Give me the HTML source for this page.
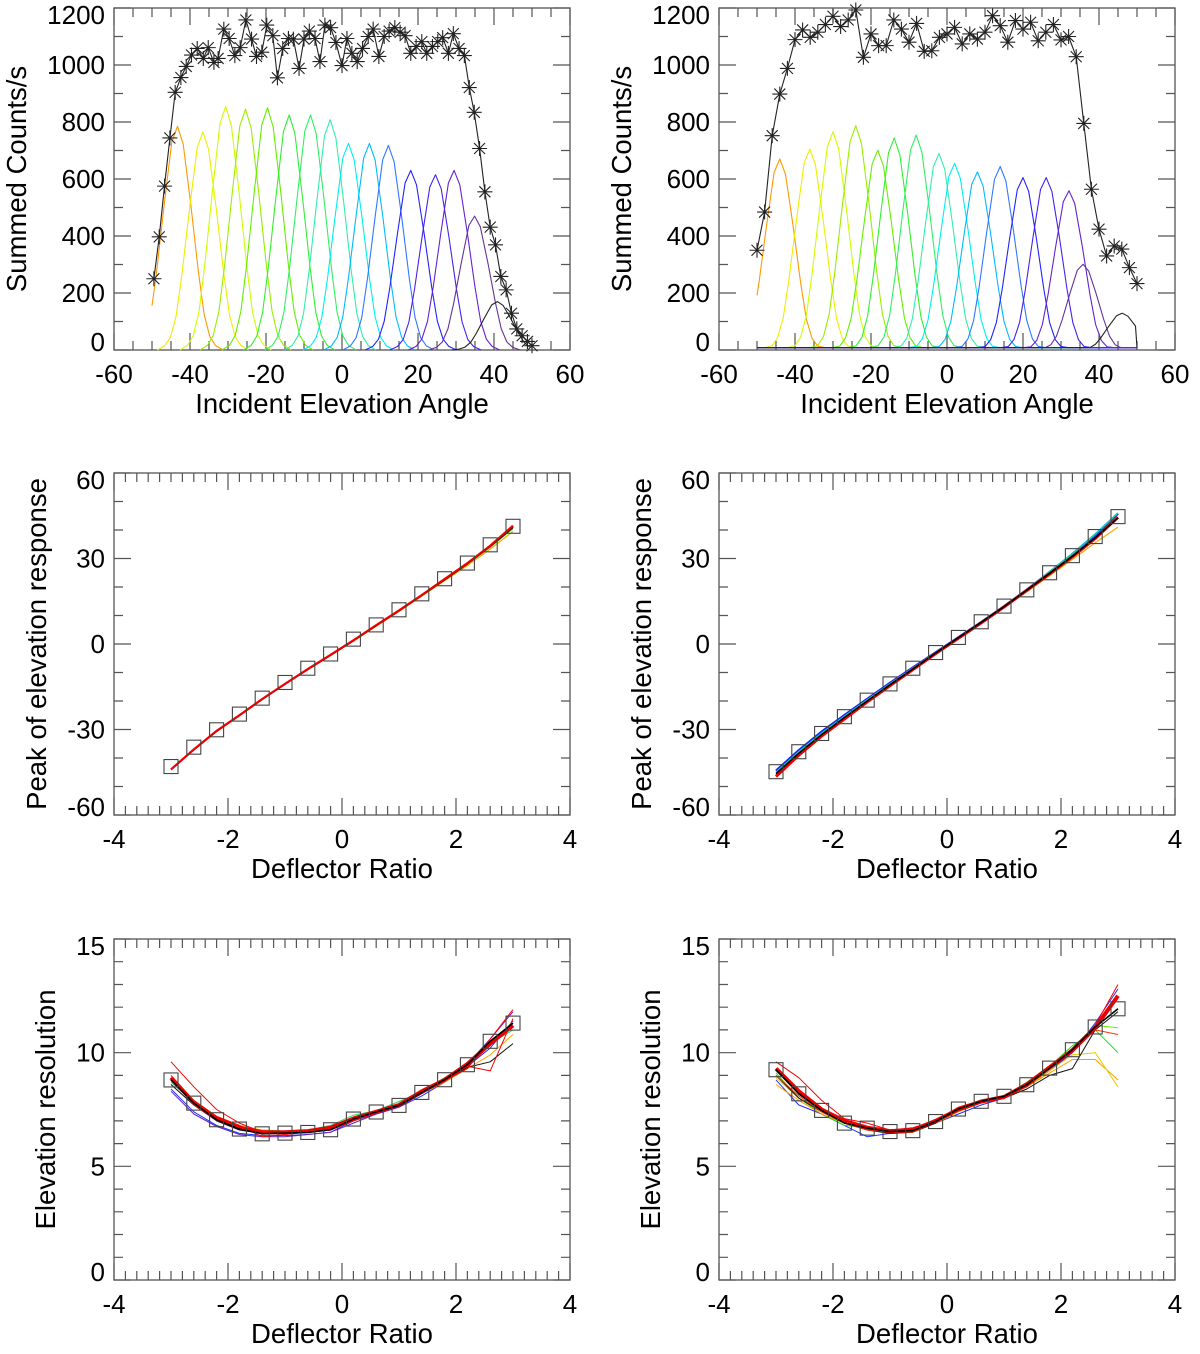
<!DOCTYPE html>
<html><head><meta charset="utf-8"><style>
html,body{margin:0;padding:0;background:#fff}
svg{display:block}
text{font-family:"Liberation Sans",Arial,sans-serif;fill:#000}
</style></head><body>
<svg id="fig" xmlns="http://www.w3.org/2000/svg" width="1200" height="1354" viewBox="0 0 1200 1354"></svg>
<script>
// ---- Data: top-left panel (summed counts) ----
const starXL = [-49.5,-48.1,-46.7,-45.3,-43.9,-42.4,-41,-39.6,-38.1,-36.5,-35.2,-33.7,-32.6,-31.1,-29.7,-28.2,-26.8,-25.3,-23.8,-22.5,-21.1,-19.8,-18.2,-17,-15.6,-14.1,-12.8,-11.3,-10,-8.6,-7.1,-5.8,-4.5,-3,-1.6,0,1.3,2.6,4,5.4,6.9,8.2,9.7,11.1,12.4,13.9,15.3,16.6,18.1,19.5,21,22.3,23.8,25.2,26.5,28,29.3,30.8,32.2,33.5,34.8,36.2,37.6,39,40.4,41.8,43.2,44.6,46,47.4,48.8,50];
const starYL = [250,397,575,744,904,956,995,1035,1058,1023,1061,1009,1023,1126,1093,1033,1061,1158,1091,1030,1045,1140,1103,955,1058,1093,1091,988,1091,1119,1093,1012,1140,1131,1079,998,1093,1041,1012,1058,1100,1126,1030,1100,1119,1131,1115,1103,1041,1065,1082,1041,1065,1082,1096,1041,1110,1058,1033,921,834,707,555,431,369,258,211,129,74,50,30,15];
const peakCenterL = [-43.3,-36.6,-30.6,-25.4,-19.6,-13.9,-8.3,-3.1,1.7,7.2,12.2,18.1,24.6,29.5,34.9,40.9];
const peakHeightL = [785,765,855,845,850,825,825,808,725,725,718,630,615,630,470,170];
// ---- Data: top-right panel ----
const starXR = [-50,-48,-46,-44,-42,-40,-38,-36,-34,-32,-30,-28,-26,-24,-22,-20,-18,-16,-14,-12,-10,-8,-6,-4,-2,0,2,4,6,8,10,12,14,16,18,20,22,24,26,28,30,32,34,36,38,40,42,44,46,48,50];
const starYR = [350,484,752,898,988,1089,1123,1097,1115,1142,1171,1135,1158,1193,1027,1109,1068,1068,1158,1126,1080,1146,1048,1050,1097,1109,1132,1074,1109,1091,1115,1173,1138,1080,1156,1126,1150,1085,1115,1142,1088,1100,1029,795,564,424,330,365,354,289,233];
const peakCenterR = [-44,-36.1,-30,-24,-18.2,-13.9,-8.1,-2.1,2,8,14,20,26.1,32.1,35.8,46.1];
const peakHeightR = [670,705,766,787,701,744,754,690,655,625,644,605,605,559,301,129];
const floorR = 8;
// shared response profile (normalised)
const profOffset = [-12,-10,-8.5,-7,-5.5,-3.5,-1.5,0,1.5,3.5,5.5,7,8.5,10,12];
const profValue  = [0,0.02,0.06,0.16,0.35,0.65,0.93,1,0.92,0.65,0.35,0.16,0.06,0.02,0];
const peakColors = ['#ff9900','#eeee00','#ccff00','#99ee00','#66ee00','#33ee33','#33ee66','#33eeaa','#00eeee','#00bbff','#3377ff','#2222ff','#4422ee','#6622cc','#663399','#222222'];
// ---- Data: deflector ratio panels ----
const ratio = [-3,-2.6,-2.2,-1.8,-1.4,-1,-0.6,-0.2,0.2,0.6,1,1.4,1.8,2.2,2.6,3];
const peakSqL = [-43,-36.2,-30.1,-24.6,-19,-13.5,-8.5,-3.5,1.7,6.7,12,17.6,22.9,28.4,34.8,41.3];
const peakOrangeL = [-44,-37,-30.5,-25,-19.4,-14,-9,-4,1,6.2,11.4,16.8,22.2,27.5,33.3,39.5];
const peakGreenL = [-44,-37,-30.5,-25,-19.3,-14,-8.9,-3.9,1.2,6.4,11.6,17,22.5,28,34,40.5];
const peakBlackL = [-44,-37,-30.6,-25,-19.4,-14,-8.9,-3.9,1.2,6.5,11.7,17.1,22.6,28.2,34.3,41];
const peakRedL = [-44,-37,-30.5,-25,-19.3,-14,-8.8,-3.8,1.3,6.6,11.8,17.2,22.8,28.4,34.5,41.5];
const peakSqR = [-44.8,-37.8,-31.4,-25.5,-19.7,-14,-8.5,-3,2.3,7.8,13.3,19,25,31,37.7,44.7];
const peakBlueR = [-44.5,-37.3,-30.8,-25,-19.3,-13.7,-8.3,-3,2.3,7.6,13.2,19,25.2,31.5,38.3,45.8];
const peakGreenR = [-45,-37.8,-31.3,-25.4,-19.6,-14,-8.5,-3.1,2.3,7.7,13.3,19.1,25.3,31.6,38.5,46];
const peakOrangeR = [-46,-38.8,-32.2,-26.2,-20.3,-14.5,-9,-3.4,2,7.3,12.8,18.3,24,29.7,35.5,41];
const peakBlackR = [-45.5,-38.3,-31.8,-25.8,-20,-14.3,-8.8,-3.2,2.2,7.6,13.1,18.9,24.8,30.8,37.3,44.2];
const peakRedR = [-46.5,-39,-32.3,-26.3,-20.3,-14.6,-9,-3.4,2,7.4,13,18.8,24.6,30.6,37,44.5];
const resSqL = [8.8,7.78,7.05,6.64,6.43,6.46,6.49,6.61,7.08,7.39,7.68,8.25,8.81,9.47,10.5,11.3];
const resRed1L = [9.6,8.5,7.5,6.9,6.5,6.45,6.5,6.6,7,7.35,7.7,8.2,8.75,9.3,10.6,11.9];
const resRed2L = [9,7.9,7.2,6.8,6.3,6.4,6.5,6.6,7.1,7.4,7.7,8.25,8.8,9.4,9.2,11.5];
const resRed3L = [8.9,7.8,7.1,6.7,6.5,6.5,6.55,6.7,7.1,7.4,7.7,8.3,8.8,9.5,10.4,11.2];
const resBlueL = [8.4,7.4,6.8,6.45,6.35,6.35,6.4,6.5,7,7.3,7.6,8.1,8.7,9.4,10.2,11.4];
const resPurpleL = [8.3,7.3,6.75,6.4,6.3,6.3,6.4,6.5,6.9,7.3,7.6,8.2,8.8,9.5,10.6,11.8];
const resGreenL = [8.7,7.8,7.1,6.7,6.6,6.55,6.6,6.8,7.25,7.45,7.85,8.3,8.9,9.5,10.4,11];
const resOrangeL = [8.8,7.9,7.2,6.8,6.6,6.5,6.55,6.7,7,7.35,7.65,8.2,8.7,9.3,9.9,10.8];
const resBlackL = [8.6,7.7,7,6.6,6.45,6.45,6.5,6.6,7.05,7.35,7.65,8.2,8.75,9.35,9.6,10.4];
const resSqR = [9.25,8.19,7.46,6.9,6.68,6.53,6.57,6.97,7.52,7.86,8.08,8.59,9.32,10.13,11.13,11.93];
const resRed1R = [9.6,8.9,7.9,7.1,6.9,6.6,6.7,7,7.6,7.9,8.1,8.5,9.3,10.2,11.2,13];
const resRed2R = [9,8.1,7.4,6.9,6.6,6.5,6.5,6.95,7.5,7.9,8.1,8.6,9.4,10.1,11,10.8];
const resRed3R = [9.3,8.3,7.5,7,6.7,6.55,6.6,7,7.5,7.85,8.05,8.6,9.35,10.1,11.1,12.5];
const resBlueR = [8.8,7.7,7.3,6.8,6.3,6.45,6.5,6.9,7.3,7.7,8,8.5,9.2,10,11.3,12.8];
const resGreenR = [9.1,8,7.3,6.8,6.7,6.6,6.6,7,7.6,7.9,8.1,8.7,9.4,10.3,11,10];
const resGreen2R = [9.2,8.2,7.4,6.9,6.7,6.5,6.6,7,7.5,7.9,8.1,8.6,9.4,10.2,11.2,11.1];
const resOrangeR = [8.6,7.9,7.3,6.9,6.6,6.5,6.5,6.9,7.4,7.8,8,8.5,9.1,9.7,9.7,8.8];
const resYellowR = [8.9,8,7.4,6.9,6.6,6.45,6.5,6.9,7.4,7.8,8,8.5,9.2,9.9,10,8.5];
const resBlackR = [9,8,7.4,6.9,6.6,6.45,6.5,6.9,7.5,7.8,8,8.4,9,9.3,11,11.8];

const NS = 'http://www.w3.org/2000/svg';
const fig = document.getElementById('fig');
function mk(tag, parent, attrs){ const e=document.createElementNS(NS,tag); for(const k in attrs) e.setAttribute(k,attrs[k]); parent.appendChild(e); return e; }

const panels = [
 {name:'counts-left', x0:114,x1:570,y0:8,y1:350,xa:-60,xb:60,ya:0,yb:1200,xM:20,xm:5,yM:200,ym:100,xt:'Incident Elevation Angle',yt:'Summed Counts/s',ytx:26},
 {name:'counts-right',x0:719,x1:1175,y0:8,y1:350,xa:-60,xb:60,ya:0,yb:1200,xM:20,xm:5,yM:200,ym:100,xt:'Incident Elevation Angle',yt:'Summed Counts/s',ytx:631},
 {name:'peak-left',   x0:114,x1:570,y0:473,y1:815,xa:-4,xb:4,ya:-60,yb:60,xM:2,xm:0.2,yM:30,ym:10,xt:'Deflector Ratio',yt:'Peak of elevation response',ytx:46},
 {name:'peak-right',  x0:719,x1:1175,y0:473,y1:815,xa:-4,xb:4,ya:-60,yb:60,xM:2,xm:0.2,yM:30,ym:10,xt:'Deflector Ratio',yt:'Peak of elevation response',ytx:651},
 {name:'resolution-left', x0:114,x1:570,y0:939,y1:1280,xa:-4,xb:4,ya:0,yb:15,xM:2,xm:0.2,yM:5,ym:1,xt:'Deflector Ratio',yt:'Elevation resolution',ytx:55},
 {name:'resolution-right',x0:719,x1:1175,y0:939,y1:1280,xa:-4,xb:4,ya:0,yb:15,xM:2,xm:0.2,yM:5,ym:1,xt:'Deflector Ratio',yt:'Elevation resolution',ytx:660}
];
panels.forEach(p=>{
  p.sx = v => p.x0 + (v-p.xa)/(p.xb-p.xa)*(p.x1-p.x0);
  p.sy = v => p.y1 - (v-p.ya)/(p.yb-p.ya)*(p.y1-p.y0);
});

function drawAxes(p){
  const g = mk('g', fig, {});
  
  
  const box = mk('rect', g, {x:p.x0,y:p.y0,width:p.x1-p.x0,height:p.y1-p.y0,fill:'none',stroke:'#555','stroke-width':1.3});
  
  
  let d='';
  const nx = Math.round((p.xb-p.xa)/p.xm);
  for(let i=0;i<=nx;i++){
    const v=p.xa+i*p.xm; const X=p.sx(v).toFixed(1);
    const major = Math.abs(v/p.xM-Math.round(v/p.xM))<1e-6; const L = major?17:9;
    d+=`M${X} ${p.y1}V${p.y1-L}M${X} ${p.y0}V${p.y0+L}`;
  }
  const ny = Math.round((p.yb-p.ya)/p.ym);
  for(let i=0;i<=ny;i++){
    const v=p.ya+i*p.ym; const Y=p.sy(v).toFixed(1);
    const major = Math.abs(v/p.yM-Math.round(v/p.yM))<1e-6; const L = major?17:9;
    d+=`M${p.x0} ${Y}H${p.x0+L}M${p.x1} ${Y}H${p.x1-L}`;
  }
  const ticks = mk('path', g, {d:d, stroke:'#555','stroke-width':1.2, fill:'none'});
  
  
  const nX = Math.round((p.xb-p.xa)/p.xM);
  for(let i=0;i<=nX;i++){
    const v=p.xa+i*p.xM;
    const t = mk('text', g, {x:p.sx(v), y:p.y1+33, 'text-anchor':'middle','font-size':26});
    
    
    t.textContent = String(Math.round(v));
  }
  const nY = Math.round((p.yb-p.ya)/p.yM);
  for(let i=0;i<=nY;i++){
    const v=p.ya+i*p.yM;
    let yy = p.sy(v)+9;
    if(i===0) yy-=8; if(i===nY) yy+=7;
    const t = mk('text', g, {x:p.x0-9, y:yy, 'text-anchor':'end','font-size':26});
    
    
    t.textContent = String(Math.round(v));
  }
  const xt = mk('text', g, {x:(p.x0+p.x1)/2, y:p.y1+63, 'text-anchor':'middle','font-size':27.5});
  
  
  xt.textContent = p.xt;
  const cy=(p.y0+p.y1)/2;
  const yt = mk('text', g, {x:p.ytx, y:cy, transform:`rotate(-90 ${p.ytx} ${cy})`, 'text-anchor':'middle','font-size':27.5});
  
  
  yt.textContent = p.yt;
}

function line(p, xs, ys, color, w, name){
  const pts = xs.map((x,i)=>p.sx(x).toFixed(1)+','+p.sy(ys[i]).toFixed(1)).join(' ');
  const e = mk('polyline', fig, {points:pts, fill:'none', stroke:color, 'stroke-width':w, 'stroke-linejoin':'round'});
  
  
  return e;
}

function peaks(p, centers, heights, floor){
  centers.forEach((c,k)=>{
    const xs=[], ys=[];
    profOffset.forEach((o,i)=>{
      const x=c+o; if(x>-50 && x<50){ xs.push(x); ys.push(Math.max(floor, heights[k]*profValue[i])); }
    });
    if(c+profOffset[0] < -50){
      let j=profOffset.findIndex(o=>c+o>-50);
      const o0=profOffset[j-1], o1=profOffset[j], t=(-50-c-o0)/(o1-o0);
      const v=heights[k]*(profValue[j-1]+(profValue[j]-profValue[j-1])*t);
      xs.unshift(-50); ys.unshift(Math.max(floor,v));
    } else if(floor>0){ xs.unshift(-50); ys.unshift(floor); }
    if(floor>0){ xs.push(50); ys.push(floor); }
    line(p, xs, ys, peakColors[k], 1.1, 'response-curve');
  });
}

function stars(p, xs, ys){
  line(p, xs, ys, '#222', 1.1, 'summed-counts-line');
  xs.forEach((x,i)=>{
    const X=p.sx(x), Y=p.sy(ys[i]), r=7.5, r2=5.5;
    const s = mk('path', fig, {d:`M${X-r} ${Y}H${X+r}M${X} ${Y-r}V${Y+r}M${X-r2} ${Y-r2}L${X+r2} ${Y+r2}M${X-r2} ${Y+r2}L${X+r2} ${Y-r2}`, stroke:'#222','stroke-width':1.1, fill:'none'});
    
    
  });
}

function squares(p, xs, ys){
  xs.forEach((x,i)=>{
    const s = mk('rect', fig, {x:p.sx(x)-7, y:p.sy(ys[i])-7, width:14, height:14, fill:'none', stroke:'#444','stroke-width':1.1});
    
    
  });
}

panels.forEach(drawAxes);
const [P1,P2,P3,P4,P5,P6] = panels;

peaks(P1, peakCenterL, peakHeightL, 0);
stars(P1, starXL, starYL);
peaks(P2, peakCenterR, peakHeightR, floorR);
stars(P2, starXR, starYR);

line(P3, ratio, peakOrangeL, '#ffaa00', 1.2, 'peak-line-orange');
line(P3, ratio, peakGreenL, '#22cc22', 1.2, 'peak-line-green');
line(P3, ratio, peakBlackL, '#000', 1.8, 'peak-line-black');
line(P3, ratio, peakRedL, '#ee0000', 2.2, 'peak-line-red');
squares(P3, ratio, peakSqL);

line(P4, ratio, peakBlueR, '#2222ff', 2.5, 'peak-line-blue');
line(P4, ratio, peakGreenR, '#00ddaa', 1.5, 'peak-line-green');
line(P4, ratio, peakOrangeR, '#ffaa00', 1.2, 'peak-line-orange');
line(P4, ratio, peakRedR, '#ee0000', 3, 'peak-line-red');
line(P4, ratio, peakBlackR, '#000', 1.6, 'peak-line-black');
squares(P4, ratio, peakSqR);

line(P5, ratio, resBlueL, '#2233ff', 1, 'resolution-line-blue');
line(P5, ratio, resPurpleL, '#6622cc', 1, 'resolution-line-purple');
line(P5, ratio, resGreenL, '#22dd66', 1, 'resolution-line-green');
line(P5, ratio, resOrangeL, '#ffaa00', 1, 'resolution-line-orange');
line(P5, ratio, resBlackL, '#111', 1, 'resolution-line-black');
line(P5, ratio, resRed1L, '#ff0000', 1, 'resolution-line-red');
line(P5, ratio, resRed2L, '#ff0000', 1, 'resolution-line-red');
line(P5, ratio, resRed3L, '#ee0000', 4, 'resolution-line-red-band');
line(P5, ratio, resSqL, '#000', 1.6, 'resolution-line-mean');
squares(P5, ratio, resSqL);

line(P6, ratio, resBlueR, '#2233ff', 1, 'resolution-line-blue');
line(P6, ratio, resGreenR, '#22dd22', 1, 'resolution-line-green');
line(P6, ratio, resGreen2R, '#66ee00', 1, 'resolution-line-green');
line(P6, ratio, resOrangeR, '#ff9900', 1, 'resolution-line-orange');
line(P6, ratio, resYellowR, '#eecc00', 1, 'resolution-line-yellow');
line(P6, ratio, resBlackR, '#111', 1, 'resolution-line-black');
line(P6, ratio, resRed1R, '#ff0000', 1, 'resolution-line-red');
line(P6, ratio, resRed2R, '#ff3300', 1, 'resolution-line-red');
line(P6, ratio, resRed3R, '#ee0000', 4, 'resolution-line-red-band');
line(P6, ratio, resSqR, '#000', 1.6, 'resolution-line-mean');
squares(P6, ratio, resSqR);
</script>
</body></html>
